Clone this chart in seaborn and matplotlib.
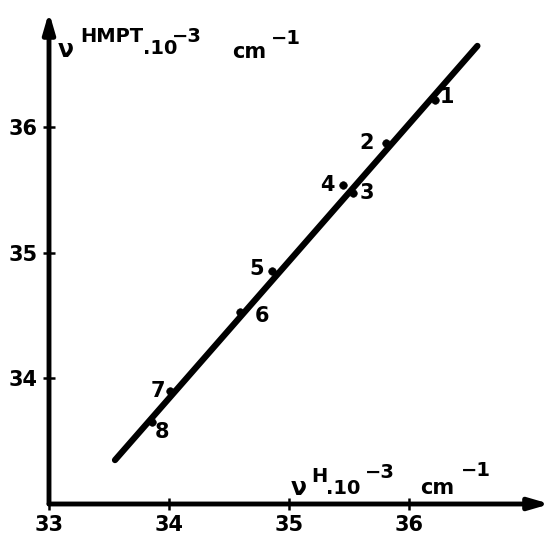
# nu(HMPT) vs nu(H) correlation plot, redrawn from a scanned figure
import numpy as np
import pandas as pd
import seaborn as sns
import matplotlib.pyplot as plt

# data (10^-3 cm^-1)
point_ids = ['1', '2', '3', '4', '5', '6', '7', '8']
nu_h = [36.22, 35.81, 35.53, 35.45, 34.86, 34.59, 34.01, 33.86]
nu_hmpt = [36.22, 35.88, 35.48, 35.54, 34.86, 34.53, 33.90, 33.65]
# ends of the fitted line
line_x = [33.55, 36.57]
line_y = [33.35, 36.65]
tick_vals = [33, 34, 35, 36]

# label offsets (points) so the numbers sit beside their dots
label_dx = [8, -14, 10, -11.5, -11, 16, -9, 7]
label_dy = [2, 0, 0, 0, 1, -3, 0, -7]

df = pd.DataFrame({'id': point_ids, 'nu_h': nu_h, 'nu_hmpt': nu_hmpt})

sns.set_style('white')
plt.rcParams['font.family'] = ['DejaVu Sans']
plt.rcParams['text.color'] = 'black'
plt.rcParams['xtick.color'] = 'black'
plt.rcParams['ytick.color'] = 'black'

W, H = 549, 537
fig = plt.figure(figsize=(W / 100, H / 100), dpi=100)
ax = fig.add_axes([49 / W, (H - 504) / H, (545 - 49) / W, (504 - 12) / H])

ax.plot(line_x, line_y, color='black', lw=4.5, solid_capstyle='round', zorder=2)
sns.scatterplot(data=df, x='nu_h', y='nu_hmpt', color='black', s=30,
                edgecolor='black', ax=ax, zorder=3, legend=False)

for i, row in df.iterrows():
    ax.annotate(row['id'], (row['nu_h'], row['nu_hmpt']),
                xytext=(label_dx[i], label_dy[i]), textcoords='offset points',
                ha='center', va='center', fontsize=15, fontweight='bold',
                color='black')

ax.set_xlim(33, 33 + (545 - 49) / 120)
ax.set_ylim(33, 33 + (504 - 12) / 125.5)

for s in ax.spines.values():
    s.set_visible(False)

# axes drawn as arrows
arrow = dict(arrowstyle='-|>,head_length=1.2,head_width=0.35',
             lw=3.5, color='black', shrinkA=0, shrinkB=0)
ax.annotate('', xy=(1.01, 0), xytext=(0, 0), xycoords='axes fraction',
            arrowprops=arrow, annotation_clip=False)
ax.annotate('', xy=(0, 1.0), xytext=(0, 0), xycoords='axes fraction',
            arrowprops=arrow, annotation_clip=False)

ax.set_xticks(tick_vals)
ax.set_xticklabels([str(t) for t in tick_vals])
ax.set_yticks(tick_vals[1:])
ax.set_yticklabels([str(t) for t in tick_vals[1:]])
ax.tick_params(axis='both', direction='inout', length=8, width=1.8,
               labelsize=15, pad=4, bottom=True, left=True,
               color='black', labelcolor='black')
for lab in ax.get_xticklabels() + ax.get_yticklabels():
    lab.set_fontweight('bold')
ax.set_xlabel('')
ax.set_ylabel('')


def ptext(x, y, s, size=15, ha='left'):
    fig.text(x / W, 1 - y / H, s, fontsize=size, fontweight='bold',
             ha=ha, va='center', color='black')


# y axis title
ptext(58, 50, 'ν', 17)
ptext(80, 37, 'HMPT', 14)
ptext(143, 49, '.10', 14)
ptext(172, 36, '−3', 14)
ptext(232, 52, 'cm', 15)
ptext(271, 39, '−1', 14)

# x axis title
ptext(291, 488, 'ν', 17)
ptext(311, 477, 'H', 14)
ptext(326, 488, '.10', 14)
ptext(365, 473, '−3', 14)
ptext(420, 488, 'cm', 15)
ptext(461, 470, '−1', 14)

fig.savefig('out.png', dpi=100)
